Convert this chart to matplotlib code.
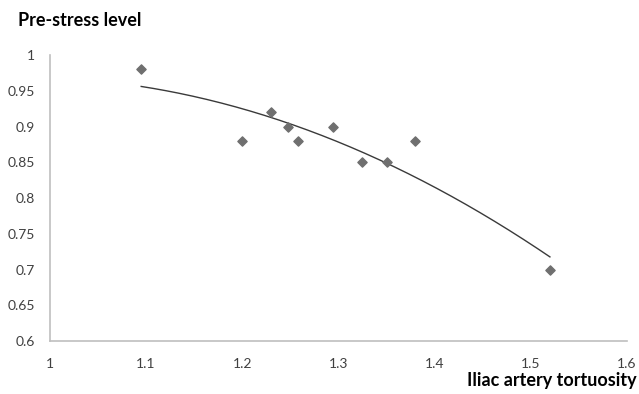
import matplotlib.pyplot as plt
import numpy as np

# data
tortuosity = [1.095, 1.2, 1.23, 1.248, 1.258, 1.294, 1.325, 1.351, 1.38, 1.52]
prestress = [0.98, 0.88, 0.92, 0.90, 0.88, 0.90, 0.85, 0.85, 0.88, 0.70]
x_ticks = [1, 1.1, 1.2, 1.3, 1.4, 1.5, 1.6]
y_ticks = [0.6, 0.65, 0.7, 0.75, 0.8, 0.85, 0.9, 0.95, 1]

plt.rcParams['font.family'] = ['Lato', 'DejaVu Sans']

fig = plt.figure(figsize=(6.39, 3.94), dpi=100)
ax = fig.add_axes([0.078, 0.1345, 0.903, 0.7255])

# scatter points
ax.scatter(tortuosity, prestress, marker='D', s=22, color='#6f6f6f', zorder=3)

# polynomial (order 2) trendline, as Excel draws it
coef = np.polyfit(tortuosity, prestress, 2)
xs = np.linspace(min(tortuosity), max(tortuosity), 200)
ax.plot(xs, np.polyval(coef, xs), color='#3a3a3a', lw=1.0, zorder=2)

ax.set_xlim(1, 1.6)
ax.set_ylim(0.6, 1)
ax.set_xticks(x_ticks)
ax.set_xticklabels([f"{t:g}" for t in x_ticks])
ax.set_yticks(y_ticks)
ax.set_yticklabels([f"{t:g}" for t in y_ticks])
ax.tick_params(length=0, labelsize=10, colors='#404040')
ax.tick_params(axis='x', pad=12.5)
ax.tick_params(axis='y', pad=10.5)

for side in ['top', 'right']:
    ax.spines[side].set_visible(False)
for side in ['left', 'bottom']:
    ax.spines[side].set_color('#bfbfbf')
    ax.spines[side].set_linewidth(1.2)

fig.text(0.028, 0.949, 'Pre-stress level', fontsize=13, fontweight='bold', va='center', ha='left')
fig.text(0.997, 0.033, 'Iliac artery tortuosity', fontsize=13, fontweight='bold', va='center', ha='right')

plt.savefig('out.png', dpi=100)
